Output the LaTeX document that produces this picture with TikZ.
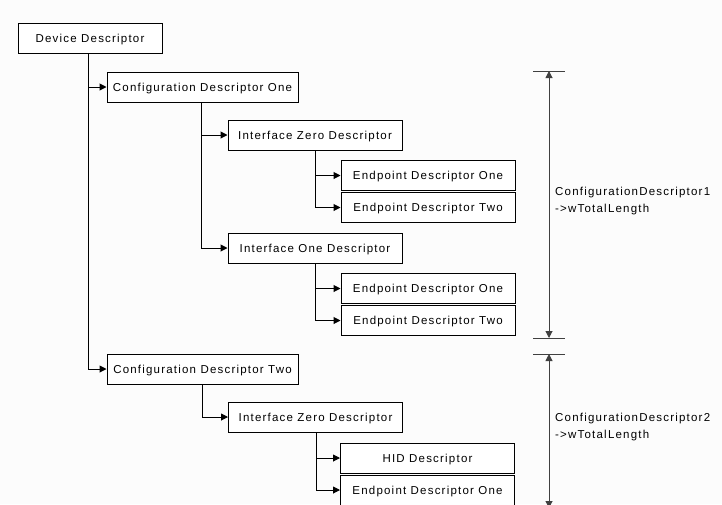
\documentclass[tikz,border=0pt]{standalone}
\usepackage{fontspec}
\newfontfamily\uifont{Liberation Sans}[LetterSpace=10.5]
\usetikzlibrary{arrows.meta}
\tikzset{
	desc/.style={
			draw, line width=1pt, fill=white, inner sep=0pt,
			text height=8pt, text depth=0pt,
			minimum height=30pt, minimum width=#1
		},
	desc/.default=174pt,
	link/.style={
			line width=1pt, -{Triangle[length=7pt,width=7pt]}
		},
	span/.style={
			line width=1pt, draw=black!75, {Triangle[length=7pt,width=7pt]}-{Triangle[length=7pt,width=7pt]}
		},
	tick/.style={line width=1pt, draw=black!75}
}

\begin{document}
\begin{tikzpicture}[x=1pt, y=-1pt, font=\uifont\fontsize{11.5}{17}\selectfont]
	\fill[black!1] (0,0) rectangle (722,504);
	\useasboundingbox (0,0) rectangle (722,504);

	\node[desc=144pt] (dev) at (90,38) {Device Descriptor};
	\node[desc=191pt] (cfg1) at (202.5,87) {Configuration Descriptor One};
	\node[desc] (if0) at (315,135) {Interface Zero Descriptor};
	\node[desc] (ep1) at (428,175.5) {Endpoint Descriptor One};
	\node[desc] (ep2) at (428,207.5) {Endpoint Descriptor Two};
	\node[desc] (if1) at (315,248) {Interface One Descriptor};
	\node[desc] (ep3) at (428,288.5) {Endpoint Descriptor One};
	\node[desc] (ep4) at (428,320.5) {Endpoint Descriptor Two};
	\node[desc=191pt] (cfg2) at (202.5,369) {Configuration Descriptor Two};
	\node[desc] (if2) at (315.5,417) {Interface Zero Descriptor};
	\node[desc] (hid) at (427.5,458) {HID Descriptor};
	\node[desc] (ep5) at (427.5,490) {Endpoint Descriptor One};

	\draw[link] ([xshift=71pt]dev.south west) |- (cfg1.west);
	\draw[link] ([xshift=71pt]dev.south west) |- (cfg2.west);
	\draw[link] ([xshift=95pt]cfg1.south west) |- (if0.west);
	\draw[link] ([xshift=95pt]cfg1.south west) |- (if1.west);
	\draw[link] ([xshift=88pt]if0.south west) |- (ep1.west);
	\draw[link] ([xshift=88pt]if0.south west) |- (ep2.west);
	\draw[link] ([xshift=88pt]if1.south west) |- (ep3.west);
	\draw[link] ([xshift=88pt]if1.south west) |- (ep4.west);
	\draw[link] ([xshift=96pt]cfg2.south west) |- (if2.west);
	\draw[link] ([xshift=88pt]if2.south west) |- (hid.west);
	\draw[link] ([xshift=88pt]if2.south west) |- (ep5.west);

	\coordinate (top1) at (549,71);
	\coordinate (bot1) at (549,338);
	\coordinate (top2) at (549,354);
	\coordinate (bot2) at (549,508);
	\foreach \c in {top1,bot1,top2}
		\draw[tick] ([xshift=-16pt]\c) -- ([xshift=16pt]\c);
	\draw[span] (top1) -- (bot1);
	\draw[span] (top2) -- (bot2);

	\node[anchor=west, align=left, inner sep=0pt] (len1) at (555,201.5) {ConfigurationDescriptor1\\->wTotalLength};
	\node[anchor=west, align=left, inner sep=0pt] (len2) at (555,427) {ConfigurationDescriptor2\\->wTotalLength};
\end{tikzpicture}
\end{document}
